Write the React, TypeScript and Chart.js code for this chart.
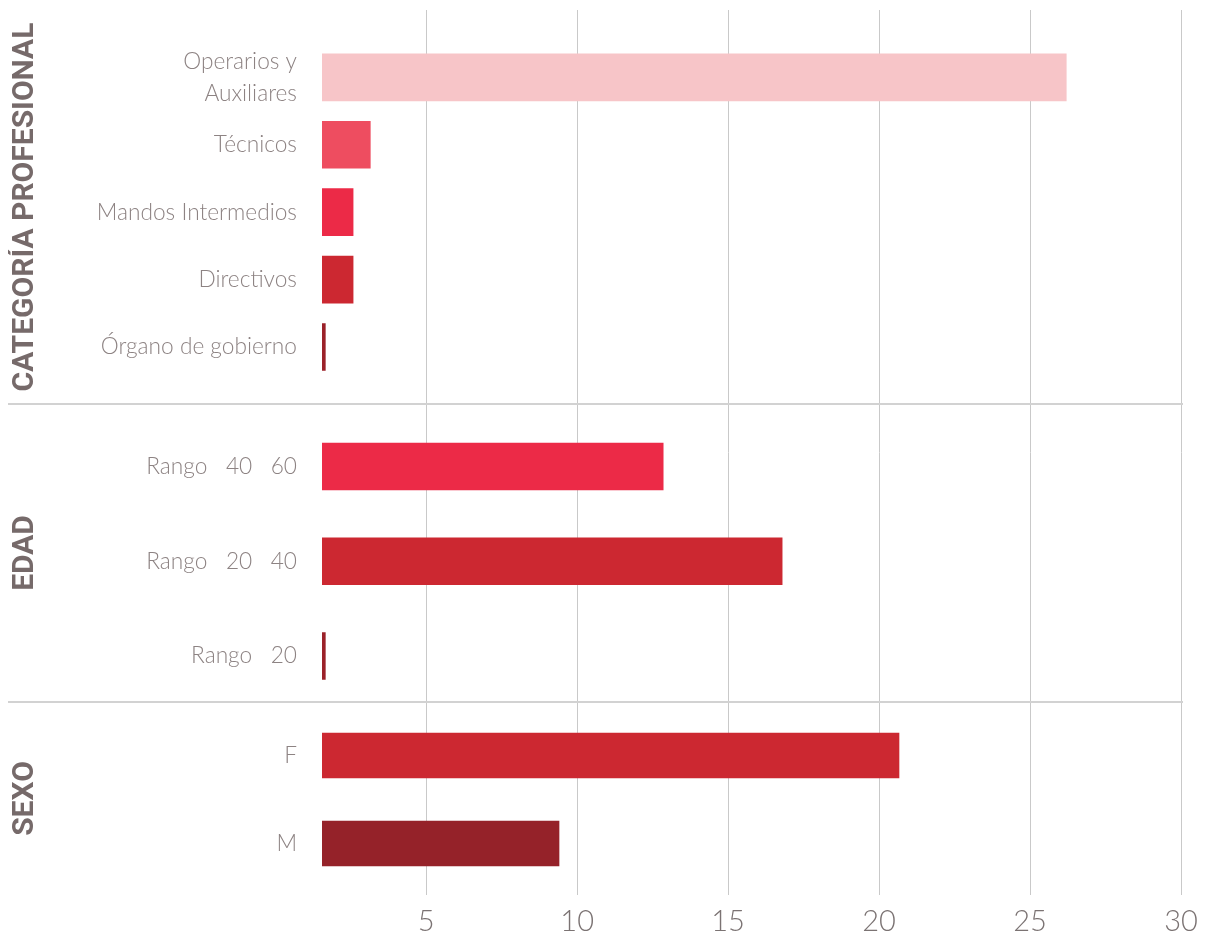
import React, { useEffect, useRef } from "react";
import { Chart, registerables } from "chart.js";

Chart.register(...registerables);

const catLabels: (string | string[])[] = [
  ["Operarios y", "Auxiliares"],
  "Técnicos",
  "Mandos Intermedios",
  "Directivos",
  "Órgano de gobierno",
];
const catValues = [26.2, 3.15, 2.58, 2.58, 1.66];
const catColors = ["#f7c5c8", "#ee4d60", "#ec2a47", "#cc2831", "#9b2129"];

const edadLabels = ["Rango   40   60", "Rango   20   40", "Rango   20"];
const edadValues = [12.85, 16.79, 1.66];
const edadColors = ["#ec2a47", "#cc2831", "#9b2129"];

const sexoLabels = ["F", "M"];
const sexoValues = [20.66, 9.4];
const sexoColors = ["#cc2831", "#952229"];

const xTickValues = [5, 10, 15, 20, 25, 30];

const groupTitles = ["CATEGORÍA PROFESIONAL", "EDAD", "SEXO"];

const tickFont = { family: "Lato, 'Open Sans', sans-serif", size: 22.7, weight: 300 as any, lineHeight: 1.4 };
const tickColor = "#8d8383";
const titleFont = { family: "Roboto, 'Open Sans', sans-serif", size: 30, weight: "bold" as any, lineHeight: 1 };
const titleColor = "#766a6a";

function yAxis(labels: (string | string[])[], title: string, weight: number, stackWeight: number, min: number, max: number) {
  return {
    type: "linear" as const,
    position: "left" as const,
    stack: "groups",
    stackWeight,
    weight,
    reverse: true,
    offset: false,
    min,
    max,
    grid: { display: false, drawTicks: false, offset: false },
    border: { display: false },
    afterBuildTicks: (s: any) => {
      s.ticks = labels.map((_, i) => ({ value: i }));
    },
    afterFit: (s: any) => {
      s.width = 314;
      s.paddingTop = 0;
      s.paddingBottom = 0;
    },
    ticks: {
      autoSkip: false,
      padding: 25,
      font: tickFont,
      color: tickColor,
      callback: (v: any) => labels[v as number],
    },
    title: {
      display: true,
      text: title,
      font: titleFont,
      color: titleColor,
      padding: { top: 2, bottom: 0 },
      align: "center",
    },
  };
}

const separatorPlugin = {
  id: "separators",
  afterDraw(chart: any) {
    const ctx = chart.ctx;
    ctx.save();
    ctx.strokeStyle = "#d2d2d2";
    ctx.lineWidth = 2;
    ["yCat", "yEdad"].forEach((id) => {
      const y = chart.scales[id].bottom;
      ctx.beginPath();
      ctx.moveTo(0, y);
      ctx.lineTo(chart.chartArea.right + 2, y);
      ctx.stroke();
    });
    ctx.restore();
  },
};

const barCommon = { grouped: false, barPercentage: 1, categoryPercentage: 1 };

export default function App() {
  const ref = useRef<HTMLCanvasElement>(null);
  useEffect(() => {
    document.documentElement.style.overflow = "hidden";
    const chart = new Chart(ref.current!, {
      type: "bar",
      data: {
        datasets: [
          {
            ...barCommon,
            data: catValues.map((v, i) => ({ x: v, y: i })),
            backgroundColor: catColors,
            yAxisID: "yCat",
            maxBarThickness: 47,
          },
          {
            ...barCommon,
            data: edadValues.map((v, i) => ({ x: v, y: i })),
            backgroundColor: edadColors,
            yAxisID: "yEdad",
            maxBarThickness: 47,
          },
          {
            ...barCommon,
            data: sexoValues.map((v, i) => ({ x: v, y: i })),
            backgroundColor: sexoColors,
            yAxisID: "ySexo",
            maxBarThickness: 45,
          },
        ] as any,
      },
      options: {
        indexAxis: "y",
        animation: false,
        responsive: false,
        layout: { padding: { top: 2, right: 18, left: 0, bottom: 0 } },
        plugins: { legend: { display: false }, tooltip: { enabled: false } },
        scales: {
          x: {
            type: "linear",
            position: "bottom",
            min: 1.55,
            max: 30,
            afterBuildTicks: (s: any) => {
              s.ticks = xTickValues.map((v) => ({ value: v }));
            },
            afterFit: (s: any) => {
              s.height = 41;
              s.paddingLeft = 0;
              s.paddingRight = 0;
            },
            grid: { color: "#c9c9c9", drawTicks: false, lineWidth: 1 },
            border: { display: false },
            ticks: {
              autoSkip: false,
              maxRotation: 0,
              padding: 9,
              font: { family: "Lato, 'Open Sans', sans-serif", size: 29, weight: 300 as any },
              color: "#7b7373",
            },
          },
          yCat: yAxis(catLabels, groupTitles[0], 3, 394, -1.0, 4.846),
          yEdad: yAxis(edadLabels, groupTitles[1], 2, 298, -0.66, 2.485),
          ySexo: yAxis(sexoLabels, groupTitles[2], 1, 193, -0.608, 1.585),
        } as any,
      },
      plugins: [separatorPlugin],
    });
    return () => chart.destroy();
  }, []);
  return (
    <div style={{ position: "fixed", left: 8, top: 8, width: 1191, height: 928 }}>
      <canvas ref={ref} width={1191} height={928} style={{ display: "block" }} />
    </div>
  );
}
